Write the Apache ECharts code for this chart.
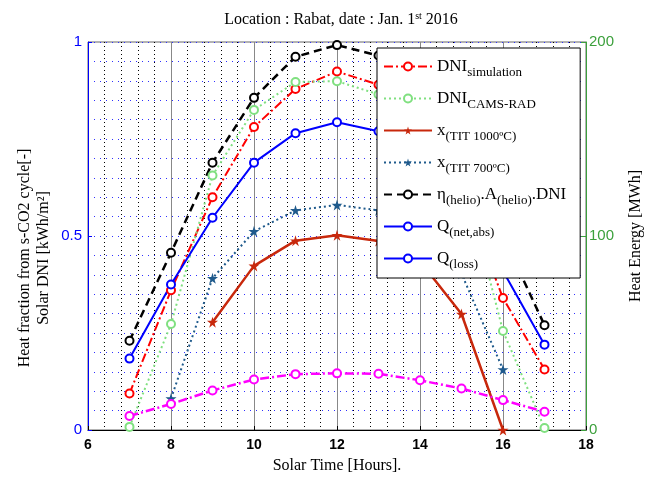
<!DOCTYPE html>
<html>
<head>
<meta charset="utf-8">
<script src="https://cdn.jsdelivr.net/npm/echarts@6/dist/echarts.min.js"></script>
<style>
  html, body { margin: 0; padding: 0; background: #fff; }
  #chart { width: 655px; height: 479px; }
</style>
</head>
<body>
<div id="chart"></div>
<script>
// solar hours on the x axis
const hours = [7, 8, 9, 10, 11, 12, 13, 14, 15, 16, 17];

// values (0..1)
const dniSimulation = [0.094, 0.36, 0.600, 0.781, 0.879, 0.924, 0.89, 0.79, 0.62, 0.34, 0.156];
const dniCamsRad    = [0.008, 0.273, 0.656, 0.825, 0.897, 0.899, 0.865, 0.81, 0.67, 0.255, 0.005];
const xTit1000      = [null, null, 0.278, 0.423, 0.488, 0.502, 0.487, 0.435, 0.299, 0.0, null];
const xTit700       = [null, 0.081, 0.391, 0.512, 0.566, 0.580, 0.566, 0.52, 0.403, 0.156, null];
const etaHelioDni   = [0.230, 0.457, 0.689, 0.856, 0.962, 0.992, 0.965, 0.87, 0.72, 0.50, 0.270];
const qNetAbs       = [0.184, 0.375, 0.547, 0.689, 0.765, 0.793, 0.77, 0.70, 0.57, 0.41, 0.220];
const qLoss         = [0.036, 0.067, 0.102, 0.130, 0.144, 0.146, 0.145, 0.128, 0.107, 0.077, 0.047];

const xTicks = [6, 8, 10, 12, 14, 16, 18];
const leftTicks = [0, 0.5, 1];
const rightTicks = [0, 100, 200];

const SERIF = '"Liberation Serif", "DejaVu Serif", serif';
const SANS = '"Liberation Sans", Arial, sans-serif';
const STAR = 'path://M50,0 L61,35 L98,35 L68,57 L79,91 L50,70 L21,91 L32,57 L2,35 L39,35 Z';

function pairs(vals) {
  return hours.map((h, i) => [h, vals[i]]).filter(p => p[1] !== null);
}

// legend labels with subscripts
const legendLabels = {
  'DNI simulation': 'DNI{sub|simulation}',
  'DNI CAMS-RAD': 'DNI{sub|CAMS-RAD}',
  'x TIT 1000': 'x{sub|(TIT 1000ºC)}',
  'x TIT 700': 'x{sub|(TIT 700ºC)}',
  'eta helio': 'η{sub|(helio)}.A{sub|(helio)}.DNI',
  'Q net abs': 'Q{sub|(net,abs)}',
  'Q loss': 'Q{sub|(loss)}'
};

function lineSeries(name, vals, color, type, width, symbol, size) {
  return {
    name: name,
    type: 'line',
    data: pairs(vals),
    symbol: symbol,
    symbolSize: size,
    showSymbol: true,
    lineStyle: { color: color, type: type, width: width },
    itemStyle: { color: color, borderWidth: 1.6 },
    emphasis: { disabled: true },
    z: 3
  };
}

const chart = echarts.init(document.getElementById('chart'));

chart.setOption({
  animation: false,
  backgroundColor: '#fff',
  title: {
    text: 'Location : Rabat, date : Jan. 1{sup|st} 2016',
    left: 336,
    textAlign: 'center',
    top: 6,
    textStyle: {
      fontFamily: SERIF, fontSize: 16, fontWeight: 'normal', color: '#000',
      rich: {
        sup: { fontFamily: SERIF, fontSize: 10, padding: [0, 0, 8, 0], color: '#000' }
      }
    }
  },
  grid: { left: 88, right: 69, top: 42, bottom: 45, show: true, borderColor: '#666', borderWidth: 1 },
  xAxis: {
    type: 'value',
    min: 6, max: 18, interval: 2,
    axisLine: { onZero: false, lineStyle: { color: '#000', width: 1 } },
    axisTick: { inside: true, length: 4, lineStyle: { color: '#000' } },
    axisLabel: {
      fontFamily: SANS, fontSize: 14, fontWeight: 'bold', color: '#000', margin: 8,
      formatter: v => xTicks.includes(v) ? String(v) : ''
    },
    splitLine: { show: true, lineStyle: { color: '#888', width: 1, type: 'solid' } },
    minorTick: { show: false, splitNumber: 5 },
    minorSplitLine: { show: true, lineStyle: { color: '#000', width: 1, type: [1, 3] } },
    name: 'Solar Time [Hours].',
    nameLocation: 'middle',
    nameGap: 28,
    nameTextStyle: { fontFamily: SERIF, fontSize: 16, color: '#000' }
  },
  yAxis: [
    {
      type: 'value',
      min: 0, max: 1, interval: 0.5,
      position: 'left',
      axisLine: { show: true, lineStyle: { color: '#0000ff', width: 1 } },
      axisTick: { show: true, inside: true, length: 4, lineStyle: { color: '#0000ff' } },
      axisLabel: {
        fontFamily: SANS, fontSize: 15, color: '#0000ff', margin: 6,
        formatter: v => leftTicks.includes(v) ? String(v) : ''
      },
      splitLine: { show: true, lineStyle: { color: '#3030ff', width: 1, type: [1, 5] } },
      minorTick: { show: false, splitNumber: 10 },
      minorSplitLine: { show: true, lineStyle: { color: '#3030ff', width: 1, type: [1, 5] } }
    },
    {
      type: 'value',
      min: 0, max: 200, interval: 100,
      position: 'right',
      axisLine: { show: true, lineStyle: { color: '#3ca03c', width: 1 } },
      axisTick: { show: true, inside: true, length: 5, lineStyle: { color: '#3ca03c' } },
      axisLabel: {
        fontFamily: SANS, fontSize: 15, color: '#3ca03c', margin: 3,
        formatter: v => rightTicks.includes(v) ? String(v) : ''
      },
      splitLine: { show: false },
      name: 'Heat Energy [MWh]',
      nameLocation: 'middle',
      nameRotate: 90,
      nameGap: 42,
      nameTextStyle: { fontFamily: SERIF, fontSize: 16, color: '#000' }
    }
  ],
  graphic: [
    {
      type: 'text',
      x: 34, y: 258,
      rotation: Math.PI / 2,
      style: {
        text: 'Heat fraction from s-CO2 cycle[-]\nSolar DNI [kWh/m²]',
        font: '16px ' + SERIF,
        fill: '#000',
        align: 'center',
        verticalAlign: 'middle',
        lineHeight: 19
      }
    }
  ],
  legend: {
    orient: 'vertical',
    left: 377,
    top: 48,
    padding: [10, 14, 7, 6],
    itemWidth: 48,
    itemHeight: 10,
    itemGap: 11,
    backgroundColor: '#fff',
    borderColor: '#000',
    borderWidth: 1,
    z: 10,
    data: [
      { name: 'DNI simulation' },
      { name: 'DNI CAMS-RAD' },
      { name: 'x TIT 1000' },
      { name: 'x TIT 700' },
      { name: 'eta helio' },
      { name: 'Q net abs' },
      { name: 'Q loss', itemStyle: { color: '#0000ff' }, lineStyle: { color: '#0000ff', type: 'solid', width: 2 } }
    ],
    formatter: name => legendLabels[name],
    textStyle: {
      fontFamily: SERIF, fontSize: 17, color: '#000',
      rich: {
        sub: { fontFamily: SERIF, fontSize: 13, color: '#000', padding: [12, 0, 0, 0] }
      }
    }
  },
  series: [
    lineSeries('DNI simulation', dniSimulation, '#ff0000', [9, 3, 2, 3], 2, 'emptyCircle', 8),
    lineSeries('DNI CAMS-RAD', dniCamsRad, '#80e080', [2, 3], 2, 'emptyCircle', 8),
    lineSeries('x TIT 1000', xTit1000, '#c8280c', 'solid', 2.5, STAR, 11),
    lineSeries('x TIT 700', xTit700, '#1f5a8c', [2, 3], 2, STAR, 11),
    lineSeries('eta helio', etaHelioDni, '#000000', [8, 5], 2.5, 'emptyCircle', 8),
    lineSeries('Q net abs', qNetAbs, '#0000ff', 'solid', 2, 'emptyCircle', 8),
    lineSeries('Q loss', qLoss, '#ff00ff', [9, 3, 2, 3], 2.5, 'emptyCircle', 8)
  ]
});
</script>
</body>
</html>
